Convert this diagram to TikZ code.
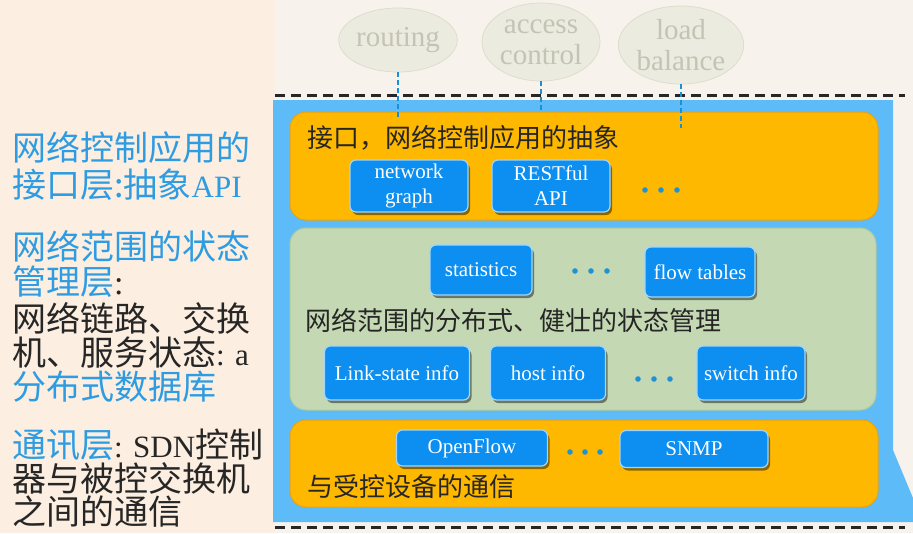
\documentclass[tikz,border=0pt]{standalone}
\usepackage{fontspec}
\setmainfont{Liberation Serif}
\newfontfamily\cjk{Noto Sans CJK SC}
\usetikzlibrary{shapes.geometric,shadows}

\definecolor{bgpeach}{HTML}{FCEEE0}
\definecolor{bgcream}{HTML}{F8F2EC}
\definecolor{panelblue}{HTML}{5DBBF8}
\definecolor{layerorange}{HTML}{FFB800}
\definecolor{orangeedge}{HTML}{E3A31A}
\definecolor{layergreen}{HTML}{C4D9B3}
\definecolor{greenedge}{HTML}{AFCB9E}
\definecolor{boxblue}{HTML}{0C8FF0}
\definecolor{boxedge}{HTML}{9FD6FF}
\definecolor{dotblue}{HTML}{1D93D3}
\definecolor{labelblue}{HTML}{2E9CE2}
\definecolor{inkdark}{HTML}{262626}
\definecolor{ghostfill}{HTML}{ECEBDF}
\definecolor{ghostedge}{HTML}{DDDCCD}
\definecolor{ghosttext}{HTML}{C4C3B4}
\definecolor{linkblue}{HTML}{1A8FD6}

\tikzset{
  layer/.style={rounded corners=16pt, line width=1pt},
  chip/.style={draw=boxedge, line width=1.2pt, fill=boxblue, rounded corners=6pt,
    text=white, font=\fontsize{21}{24}\selectfont, align=center, inner sep=2pt,
    drop shadow={shadow xshift=2pt, shadow yshift=-3pt, opacity=0.45, fill=black}},
  app/.style={ellipse, draw=ghostedge, line width=0.8pt, fill=ghostfill, text=ghosttext,
    font=\fontsize{29}{31}\selectfont, align=center, inner sep=0pt},
  applink/.style={draw=linkblue, line width=1.3pt, dash pattern=on 5pt off 3pt},
  fence/.style={draw=black!85, line width=3pt, dash pattern=on 10pt off 6pt},
  layertitle/.style={anchor=base west, inner sep=0pt, text=inkdark,
    font=\cjk\fontsize{26}{28}\selectfont},
  side/.style={anchor=base west, inner sep=0pt, text=inkdark,
    font=\fontsize{34}{36}\selectfont},
  latin/.style={},
  dotmark/.style={fill=dotblue}
}
\newcommand{\sidelatin}[1]{{\fontsize{31}{36}\selectfont #1}}

\begin{document}
\begin{tikzpicture}[x=1pt,y=-1pt]
  \useasboundingbox (0,0) rectangle (913,533);
  \fill[bgpeach] (0,0) rectangle (913,533);
  \fill[bgcream] (275,0) rectangle (913,533);

  % controller panel with its slanted lower-right edge
  \fill[panelblue] (273,100) -- (893,100) -- (893,450) -- (913,498) -- (913,522) -- (273,522) -- cycle;

  % dashed boundaries above and below the controller
  \draw[fence] (275,95) -- (905,95);
  \draw[fence] (275,527) -- (905,527);

  % three layers
  \node[layer, draw=orangeedge, fill=layerorange, minimum width=588pt, minimum height=108pt] (apilayer) at (584,166) {};
  \node[layer, draw=greenedge, fill=layergreen, minimum width=586pt, minimum height=182pt] (statelayer) at (583,319) {};
  \node[layer, draw=orangeedge, fill=layerorange, minimum width=588pt, minimum height=87pt] (commlayer) at (584,463.5) {};

  % network applications above the controller
  \node[app, minimum width=112pt, minimum height=64pt] (routing) at (398,40) {routing};
  \node[app, minimum width=118pt, minimum height=78pt] (access) at (541,42) {access\\control};
  \node[app, minimum width=122pt, minimum height=78pt] (balance) at (681,45) {load\\balance};

  \coordinate (routingend) at (398,120);
  \coordinate (accessend) at (541,110);
  \coordinate (balanceend) at (681,128);
  \draw[applink] (routing.south) -- (routingend);
  \draw[applink] (access.south) -- (accessend);
  \draw[applink] (balance.south) -- (balanceend);

  % layer titles
  \node[layertitle] (apititle) at (307,147) {接口，网络控制应用的抽象};
  \node[layertitle] (statetitle) at (305,330) {网络范围的分布式、健壮的状态管理};
  \node[layertitle] (commtitle) at (307,496) {与受控设备的通信};

  % northbound abstractions
  \node[chip, minimum width=118pt, minimum height=52pt, font=\fontsize{21}{25}\selectfont] (netgraph) at (409,186) {network\\graph};
  \node[chip, minimum width=118pt, minimum height=52pt, font=\fontsize{21}{25}\selectfont] (restapi) at (551,186) {RESTful\\API};
  \foreach \x in {645,661,677} \fill[dotmark] (\x,190) circle (2.8pt);

  % state management
  \node[chip, minimum width=102pt, minimum height=50pt] (stats) at (481,270) {statistics};
  \foreach \x in {575,591,607} \fill[dotmark] (\x,271) circle (2.8pt);
  \node[chip, minimum width=110pt, minimum height=50pt] (flowtables) at (700,272) {flow tables};

  \node[chip, minimum width=145pt, minimum height=54pt] (linkstate) at (397,373) {Link-state info};
  \node[chip, minimum width=115pt, minimum height=54pt] (hostinfo) at (548,373) {host info};
  \foreach \x in {638,654,670} \fill[dotmark] (\x,379) circle (2.8pt);
  \node[chip, minimum width=108pt, minimum height=54pt] (switchinfo) at (751,373) {switch info};

  % southbound protocols
  \node[chip, minimum width=151pt, minimum height=36pt] (openflow) at (472,448) {OpenFlow};
  \foreach \x in {570,585,600} \fill[dotmark] (\x,452) circle (2.8pt);
  \node[chip, minimum width=148pt, minimum height=37pt] (snmp) at (694,449) {SNMP};

  % layer descriptions on the left
  \node[side] (s1) at (12,160) {\cjk\color{labelblue}网络控制应用的};
  \node[side] (s2) at (12,197) {\color{labelblue}{\cjk 接口层:抽象}\sidelatin{API}};
  \node[side] (s3) at (12,259) {\cjk\color{labelblue}网络范围的状态};
  \node[side] (s4) at (12,294) {{\cjk\color{labelblue}管理层}:};
  \node[side] (s5) at (12,331) {\cjk 网络链路、交换};
  \node[side] (s6) at (12,365) {{\cjk 机、服务状态}\sidelatin{: a}};
  \node[side] (s7) at (12,399) {\cjk\color{labelblue}分布式数据库};
  \node[side] (s8) at (12,457) {{\cjk\color{labelblue}通讯层}\sidelatin{: SDN}{\cjk 控制}};
  \node[side] (s9) at (12,491) {\cjk 器与被控交换机};
  \node[side] (s10) at (12,524) {\cjk 之间的通信};
\end{tikzpicture}
\end{document}
